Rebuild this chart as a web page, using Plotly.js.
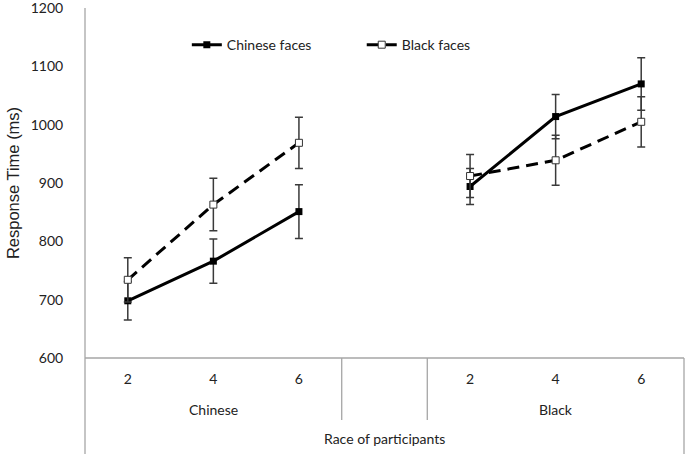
<!DOCTYPE html>
<html>
<head>
<meta charset="utf-8">
<script src="https://cdn.plot.ly/plotly-3.0.1.min.js"></script>
<style>html,body{margin:0;padding:0;background:#fff;}#chart{width:685px;height:454px;}</style>
</head>
<body>
<div id="chart"></div>
<script>
// ---- data ----
const xLabels = ['2', '4', '6', '', '2', '4', '6'];
const groupNames = ['Chinese', 'Black'];
const groupCenters = [1, 5];
const axisTitleX = 'Race of participants';
const axisTitleY = 'Response Time (ms)';
const seriesNames = ['Chinese faces', 'Black faces'];
const chineseFaces = [698, 766, 851, null, 894, 1014, 1070];
const chineseFacesErr = [33, 38, 46, null, 31, 38, 45];
const blackFaces = [734, 863, 969, null, 912, 939, 1005];
const blackFacesErr = [38, 45, 44, null, 37, 43, 43];
const yTicks = [600, 700, 800, 900, 1000, 1100, 1200];

const xIdx = xLabels.map((_, i) => i);
const tickIdx = xIdx.filter(i => xLabels[i] !== '');
const nCat = xLabels.length;
const toPaper = v => (v + 0.5) / nCat;

const font = 'Lato, "Open Sans", sans-serif';
const axisGray = '#a6a6a6';

const traces = [
  {
    x: xIdx, y: chineseFaces, name: seriesNames[0], type: 'scatter', mode: 'lines+markers',
    line: {color: '#000', width: 3},
    marker: {symbol: 'square', size: 7, color: '#000'},
    error_y: {type: 'data', array: chineseFacesErr, visible: true, color: '#3a3a3a', thickness: 1.5, width: 4},
    legend: 'legend'
  },
  {
    x: xIdx, y: blackFaces, name: seriesNames[1], type: 'scatter', mode: 'lines+markers',
    line: {color: '#000', width: 3, dash: '12px,7px'},
    marker: {symbol: 'square', size: 7, color: '#fff', line: {color: '#333', width: 1}},
    error_y: {type: 'data', array: blackFacesErr, visible: true, color: '#3a3a3a', thickness: 1.5, width: 4},
    legend: 'legend2'
  }
];

const bottomExt = -96 / 350;
const dividerEnd = -62 / 350;
const shapes = [
  {type: 'line', xref: 'paper', yref: 'paper', x0: 0, x1: 0, y0: bottomExt, y1: 1, line: {color: axisGray, width: 1.3}},
  {type: 'line', xref: 'paper', yref: 'paper', x0: 0, x1: 1, y0: 0, y1: 0, line: {color: axisGray, width: 1.3}},
  {type: 'line', xref: 'paper', yref: 'paper', x0: 1, x1: 1, y0: bottomExt, y1: 0, line: {color: axisGray, width: 1.3}},
  {type: 'line', xref: 'paper', yref: 'paper', x0: toPaper(2.5), x1: toPaper(2.5), y0: dividerEnd, y1: 0, line: {color: axisGray, width: 1.3}},
  {type: 'line', xref: 'paper', yref: 'paper', x0: toPaper(3.5), x1: toPaper(3.5), y0: dividerEnd, y1: 0, line: {color: axisGray, width: 1.3}}
];

const annotations = groupNames.map((g, i) => ({
  text: g, x: toPaper(groupCenters[i]), xref: 'paper', y: -51 / 350, yref: 'paper',
  xanchor: 'center', yanchor: 'middle', showarrow: false, font: {family: font, size: 14, color: '#222'}
}));
annotations.push({
  text: axisTitleX, x: 0.5, xref: 'paper', y: -80 / 350, yref: 'paper',
  xanchor: 'center', yanchor: 'middle', showarrow: false, font: {family: font, size: 14, color: '#222'}
});

const layout = {
  width: 685, height: 454,
  margin: {l: 85, r: 1, t: 8, b: 96},
  paper_bgcolor: '#fff', plot_bgcolor: '#fff',
  showlegend: true,
  xaxis: {
    range: [-0.5, nCat - 0.5], tickvals: tickIdx, ticktext: tickIdx.map(i => xLabels[i]),
    showgrid: false, zeroline: false, showline: false,
    ticks: 'outside', ticklen: 8, tickcolor: 'rgba(0,0,0,0)',
    tickfont: {family: font, size: 14, color: '#222'}
  },
  yaxis: {
    range: [599.9, 1200.2], tickvals: yTicks, showgrid: false, zeroline: false, showline: false,
    ticks: 'outside', ticklen: 18, tickcolor: 'rgba(0,0,0,0)', ticklabeloverflow: 'allow',
    tickfont: {family: font, size: 14, color: '#222'},
    title: {text: axisTitleY, font: {family: '"Liberation Sans", Arial, sans-serif', size: 16.5, color: '#222'}, standoff: 6}
  },
  legend: {orientation: 'h', x: 0.17, y: 0.894, xanchor: 'left', yanchor: 'middle', bgcolor: 'rgba(0,0,0,0)',
    font: {family: font, size: 14, color: '#222'}},
  legend2: {orientation: 'h', x: 0.462, y: 0.894, xanchor: 'left', yanchor: 'middle', bgcolor: 'rgba(0,0,0,0)',
    font: {family: font, size: 14, color: '#222'}},
  shapes: shapes,
  annotations: annotations
};

Plotly.newPlot('chart', traces, layout, {displayModeBar: false, staticPlot: true});
</script>
</body>
</html>
